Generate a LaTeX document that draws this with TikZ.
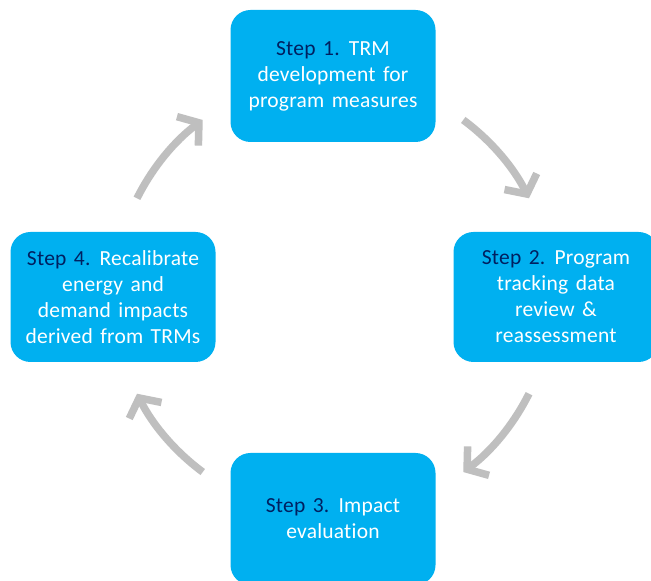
\documentclass[tikz,border=0pt]{standalone}
\usepackage{fontspec}
\setmainfont{Carlito}[LetterSpace=1,Ligatures={NoCommon}]
\usetikzlibrary{arrows.meta}
\definecolor{stepblue}{HTML}{00B0F0}
\definecolor{stepnavy}{HTML}{002060}
\definecolor{cyclegrey}{HTML}{BFBFBF}
% text face of the step boxes: slightly loose words
\newcommand{\stepfont}{\fontsize{21.5}{26}\selectfont\spaceskip=7.5pt plus 2pt\relax}
\begin{document}
\begin{tikzpicture}[x=1pt,y=1pt,
  stepbox/.style={fill=stepblue, rounded corners=20pt, minimum width=205pt,
    minimum height=132pt, align=center, text=white, inner sep=0pt,
    font=\stepfont},
  cyclearrow/.style={draw=cyclegrey, line width=7.5pt,
    -{Straight Barb[length=14pt,width=36pt]}}]
\useasboundingbox (0,0) rectangle (651,581);
\fill[white] (0,0) rectangle (651,581);
\clip (0,0) rectangle (651,581);

% the four steps of the cycle
\node[stepbox] (s1) at (333,505) {{\color{stepnavy}Step 1.} TRM\\development for\\program measures};
\node[stepbox, minimum height=130pt] (s2) at (556,284) {{\color{stepnavy}Step 2.} Program\\tracking data\\review \&\\reassessment};
\node[stepbox] (s3) at (333,62) {{\color{stepnavy}Step 3.} Impact\\evaluation};
\node[stepbox, minimum height=130pt] (s4) at (113,284) {{\color{stepnavy}Step 4.} Recalibrate\\energy and\\demand impacts\\derived from TRMs};

% curved arrows on a common circle between the steps
\coordinate (hub) at (333,285);
\draw[cyclearrow] ([shift={(53.5:219)}]hub) arc[start angle=53.5, end angle=26.5, radius=219];
\draw[cyclearrow] ([shift={(-26.5:219)}]hub) arc[start angle=-26.5, end angle=-53.5, radius=219];
\draw[cyclearrow] ([shift={(-126.5:219)}]hub) arc[start angle=-126.5, end angle=-153.5, radius=219];
\draw[cyclearrow] ([shift={(153.5:219)}]hub) arc[start angle=153.5, end angle=126.5, radius=219];
\end{tikzpicture}
\end{document}
